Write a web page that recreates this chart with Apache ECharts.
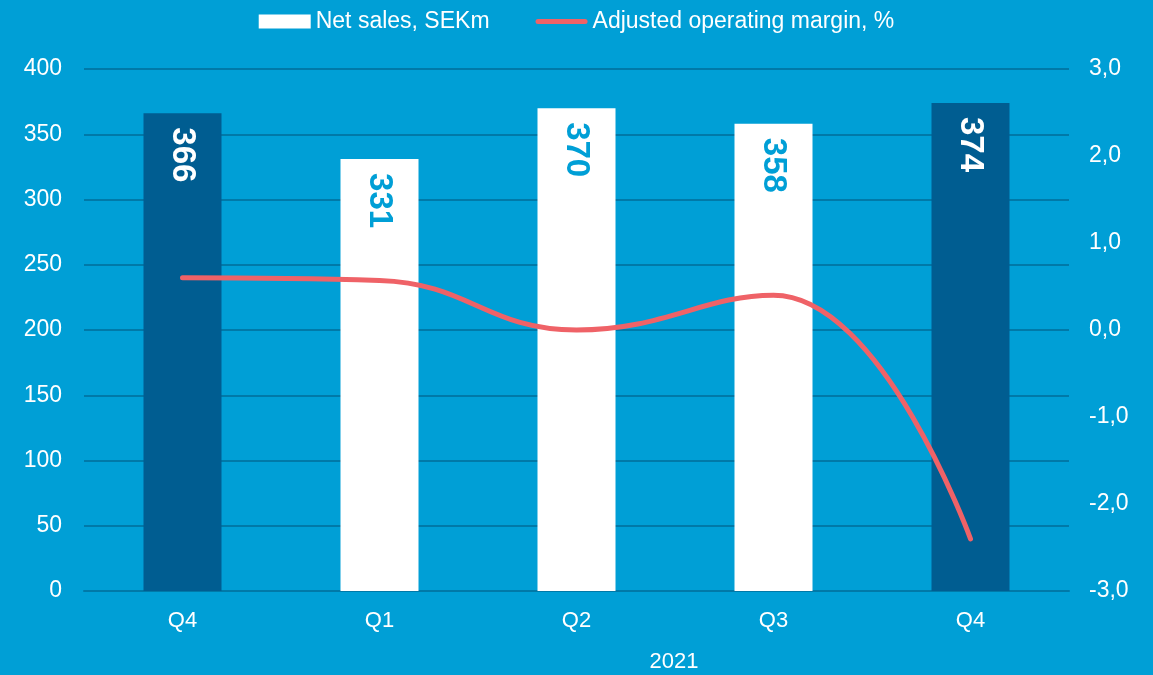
<!DOCTYPE html>
<html>
<head>
<meta charset="utf-8">
<script src="https://cdn.jsdelivr.net/npm/echarts@6/dist/echarts.min.js"></script>
<style>
  html, body { margin: 0; padding: 0; background: #009fd6; }
  #chart { width: 1153px; height: 675px; }
</style>
</head>
<body>
<div id="chart"></div>
<script>
// quarters, Q4 2020 then 2021
const quarters = ['Q4', 'Q1', 'Q2', 'Q3', 'Q4'];
const netSales = [366, 331, 370, 358, 374];
const adjMargin = [0.6, 0.57, 0.0, 0.4, -2.4];
const darkBars = [true, false, false, false, true];
const yearLabel = '2021';

const BG = '#009fd6';
const DARK = '#005d91';
const RED = '#ef6267';

let chart = echarts.init(document.getElementById('chart'));

const option = {
    backgroundColor: BG,
    textStyle: { fontFamily: 'Liberation Sans, Arial, sans-serif' },
    legend: {
        top: 5,
        left: 'center',
        itemWidth: 52,
        itemHeight: 14,
        itemGap: 46,
        textStyle: { color: '#fff', fontSize: 23 },
        data: [
            { name: 'Net sales, SEKm', icon: 'rect' },
            { name: 'Adjusted operating margin, %', icon: 'path://M2.5,0 L49.5,0 A2.5,2.5 0 0 1 49.5,5 L2.5,5 A2.5,2.5 0 0 1 2.5,0 Z' }
        ]
    },
    grid: { left: 84, right: 84, top: 69, bottom: 84 },
    xAxis: {
        type: 'category',
        data: quarters,
        axisTick: { show: false },
        axisLine: { lineStyle: { color: '#0079a8', width: 2 } },
        axisLabel: { color: '#fff', fontSize: 22, margin: 19 }
    },
    yAxis: [
        {
            type: 'value',
            min: 0, max: 400, interval: 50,
            axisLine: { show: false },
            axisTick: { show: false },
            splitLine: { lineStyle: { color: '#0079a8', width: 2 } },
            axisLabel: { color: '#fff', fontSize: 23, margin: 22 }
        },
        {
            type: 'value',
            min: -3, max: 3, interval: 1,
            axisLine: { show: false },
            axisTick: { show: false },
            splitLine: { show: false },
            axisLabel: {
                color: '#fff', fontSize: 23, margin: 20,
                formatter: function (v) { return v.toFixed(1).replace('.', ','); }
            }
        }
    ],
    graphic: [
        {
            type: 'text',
            x: 674, y: 662,
            style: { text: yearLabel, fill: '#fff', fontSize: 22, align: 'center',
                     verticalAlign: 'middle',
                     fontFamily: 'Liberation Sans, Arial, sans-serif' }
        }
    ],
    series: [
        {
            name: 'Net sales, SEKm',
            type: 'bar',
            barWidth: 78,
            itemStyle: { color: '#fff' },
            data: netSales.map(function (v, i) {
                return {
                    value: v,
                    itemStyle: { color: darkBars[i] ? DARK : '#fff' },
                    label: { color: darkBars[i] ? '#fff' : BG }
                };
            }),
            label: {
                show: true,
                position: 'insideTop',
                distance: 14,
                rotate: -90,
                align: 'left',
                verticalAlign: 'middle',
                fontSize: 33,
                fontWeight: 'bold'
            },
            z: 2
        },
        {
            name: 'Adjusted operating margin, %',
            type: 'line',
            yAxisIndex: 1,
            smooth: 0.45,
            symbol: 'none',
            lineStyle: { color: RED, width: 5, cap: 'round' },
            itemStyle: { color: RED },
            data: adjMargin,
            z: 3
        }
    ]
};

chart.setOption(option);
window.addEventListener('resize', function () {
    chart.resize();
});
</script>
</body>
</html>
